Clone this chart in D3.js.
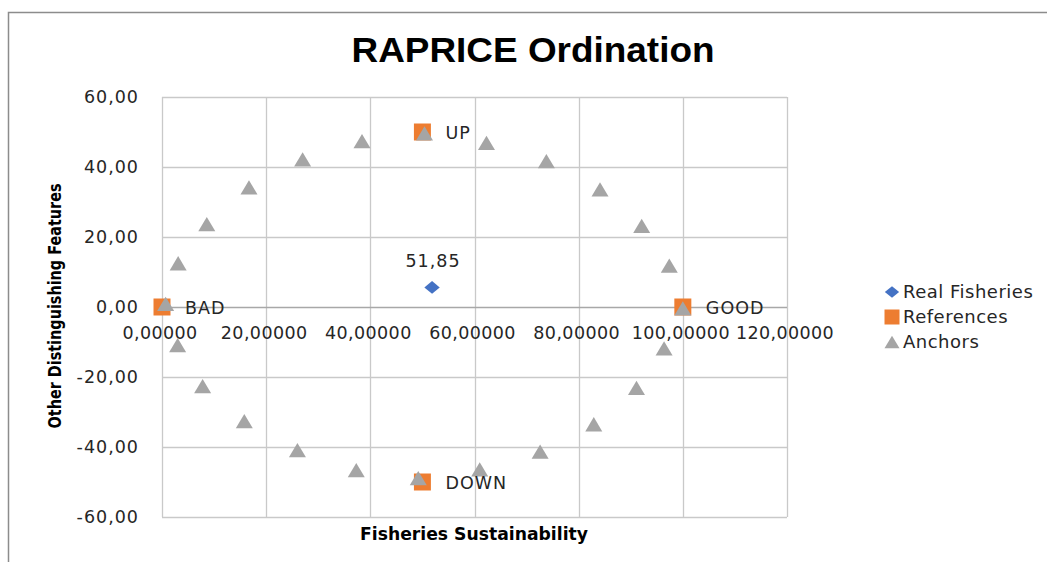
<!DOCTYPE html>
<html>
<head>
<meta charset="utf-8">
<script src="https://cdn.jsdelivr.net/npm/d3@7"></script>
<style>
  body { margin: 0; background: #fff; }
  text { font-family: "DejaVu Sans", sans-serif; fill: #262626; }
</style>
</head>
<body>
<div id="chart"></div>
<script>
// Data
const xTicks = [0, 20, 40, 60, 80, 100, 120];
const yTicks = [-60, -40, -20, 0, 20, 40, 60];

const realNames = ['51,85'];
const realX = [51.85];
const realY = [5.6];

const refNames = ['BAD', 'UP', 'GOOD', 'DOWN'];
const refX = [0, 50, 100, 50];
const refY = [0, 50, 0, -50];

const anchorX = [0.7, 3.1, 8.6, 16.7, 27.0, 38.4, 50.4, 62.3, 73.8, 84.1, 92.1, 97.4,
                 100, 96.4, 91.1, 82.9, 72.6, 61.0, 49.2, 37.3, 26.0, 15.8, 7.8, 3.0];
const anchorY = [0.9, 12.5, 23.7, 34.2, 42.2, 47.4, 49.6, 46.9, 41.7, 33.6, 23.2, 11.8,
                 -0.4, -11.8, -23.1, -33.5, -41.3, -46.4, -48.9, -46.6, -40.9, -32.6, -22.6, -10.9];

const seriesNames = ['Real Fisheries', 'References', 'Anchors'];
const colors = ['#4472C4', '#ED7D31', '#A5A5A5'];

// Sizes
const WIDTH = 1047;
const HEIGHT = 562;

const xScale = d3.scaleLinear().domain([0, 120]).range([162, 787]);
const yScale = d3.scaleLinear().domain([-60, 60]).range([517, 97]);

const svg = d3.select('#chart')
              .append('svg')
              .attr('width', WIDTH)
              .attr('height', HEIGHT);

// chart frame (only left and top edges visible)
svg.append('path')
   .attr('d', 'M8.5,' + HEIGHT + ' V12.5 H' + WIDTH)
   .attr('fill', 'none')
   .attr('stroke', '#8c8c8c')
   .attr('stroke-width', 1.5);

// title
svg.append('text')
   .attr('x', 533)
   .attr('y', 62)
   .attr('text-anchor', 'middle')
   .attr('textLength', 363)
   .attr('lengthAdjust', 'spacingAndGlyphs')
   .style('font-family', '"Liberation Sans", sans-serif')
   .style('font-weight', 'bold')
   .style('font-size', '35px')
   .style('fill', '#000')
   .text('RAPRICE Ordination');

// gridlines
const grid = svg.append('g');
grid.selectAll('.vgrid')
    .data(xTicks)
    .enter()
    .append('line')
    .attr('x1', d => Math.round(xScale(d)) + 0.5)
    .attr('x2', d => Math.round(xScale(d)) + 0.5)
    .attr('y1', yScale(60))
    .attr('y2', yScale(-60))
    .attr('stroke', '#c9c9c9')
    .attr('stroke-width', 1.3);
grid.selectAll('.hgrid')
    .data(yTicks)
    .enter()
    .append('line')
    .attr('x1', xScale(0))
    .attr('x2', xScale(120))
    .attr('y1', d => Math.round(yScale(d)) + 0.5)
    .attr('y2', d => Math.round(yScale(d)) + 0.5)
    .attr('stroke', d => d === 0 ? '#a8a8a8' : '#c9c9c9')
    .attr('stroke-width', 1.3);

// y axis labels
const fmtY = d => d3.format('.2f')(d).replace('.', ',').replace('−', '-');
svg.append('g')
   .selectAll('text')
   .data(yTicks)
   .enter()
   .append('text')
   .attr('x', 139)
   .attr('y', d => yScale(d))
   .attr('dy', '0.36em')
   .attr('text-anchor', 'end')
   .style('font-size', '17.5px')
   .style('letter-spacing', '1px')
   .text(fmtY);

// x axis labels, sitting under the zero line
const fmtX = d => d3.format('.5f')(d).replace('.', ',');
svg.append('g')
   .selectAll('text')
   .data(xTicks)
   .enter()
   .append('text')
   .attr('x', d => xScale(d) - 2)
   .attr('y', yScale(0) + 26)
   .attr('dy', '0.36em')
   .attr('text-anchor', 'middle')
   .style('font-size', '17.5px')
   .style('letter-spacing', '0.4px')
   .text(fmtX);

// axis titles
svg.append('text')
   .attr('x', 474)
   .attr('y', 540)
   .attr('text-anchor', 'middle')
   .attr('textLength', 228)
   .attr('lengthAdjust', 'spacingAndGlyphs')
   .style('font-weight', 'bold')
   .style('font-size', '17px')
   .style('fill', '#000')
   .text('Fisheries Sustainability');

svg.append('text')
   .attr('transform', 'translate(61,306) rotate(-90)')
   .attr('text-anchor', 'middle')
   .attr('textLength', 245)
   .attr('lengthAdjust', 'spacingAndGlyphs')
   .style('font-weight', 'bold')
   .style('font-size', '17px')
   .style('fill', '#000')
   .text('Other Distinguishing Features');

// marker shapes
const diamond = s => 'M0,' + (-s * 0.45) + ' L' + (s * 0.55) + ',0 L0,' + (s * 0.45) + ' L' + (-s * 0.55) + ',0Z';
const square = s => 'M' + (-s / 2) + ',' + (-s / 2) + ' h' + s + ' v' + s + ' h' + (-s) + 'Z';
const triangle = s => 'M0,' + (-s * 0.42) + ' L' + (s / 2) + ',' + (s * 0.42) + ' L' + (-s / 2) + ',' + (s * 0.42) + 'Z';

// Real Fisheries
const real = realX.map((x, i) => ({ x: x, y: realY[i], name: realNames[i] }));
svg.append('g')
   .selectAll('path')
   .data(real)
   .enter()
   .append('path')
   .attr('d', diamond(14))
   .attr('transform', d => 'translate(' + xScale(d.x) + ',' + yScale(d.y) + ')')
   .attr('fill', colors[0]);

// References
const refs = refX.map((x, i) => ({ x: x, y: refY[i], name: refNames[i] }));
svg.append('g')
   .selectAll('path')
   .data(refs)
   .enter()
   .append('path')
   .attr('d', square(17))
   .attr('transform', d => 'translate(' + xScale(d.x) + ',' + yScale(d.y) + ')')
   .attr('fill', colors[1]);

// Anchors
const anchors = anchorX.map((x, i) => ({ x: x, y: anchorY[i] }));
svg.append('g')
   .selectAll('path')
   .data(anchors)
   .enter()
   .append('path')
   .attr('d', triangle(17))
   .attr('transform', d => 'translate(' + xScale(d.x) + ',' + yScale(d.y) + ')')
   .attr('fill', colors[2]);

// data labels
svg.append('g')
   .selectAll('text')
   .data(refs)
   .enter()
   .append('text')
   .attr('x', d => xScale(d.x) + 23)
   .attr('y', d => yScale(d.y) + 1)
   .attr('dy', '0.36em')
   .style('font-size', '17.5px')
   .style('letter-spacing', '1px')
   .text(d => d.name);

svg.append('g')
   .selectAll('text')
   .data(real)
   .enter()
   .append('text')
   .attr('x', d => xScale(d.x) + 1)
   .attr('y', d => yScale(d.y) - 27)
   .attr('dy', '0.36em')
   .attr('text-anchor', 'middle')
   .style('font-size', '17.5px')
   .style('letter-spacing', '1px')
   .text(d => d.name);

// legend
const shapes = [diamond(13), square(15), triangle(15)];
const legend = svg.append('g')
                  .selectAll('g')
                  .data(seriesNames)
                  .enter()
                  .append('g')
                  .attr('transform', (d, i) => 'translate(892,' + (292 + i * 25) + ')');
legend.append('path')
      .attr('d', (d, i) => shapes[i])
      .attr('fill', (d, i) => colors[i]);
legend.append('text')
      .attr('x', 11)
      .attr('dy', '0.36em')
      .style('font-size', '18px')
      .style('letter-spacing', '0.5px')
      .text(d => d);
</script>
</body>
</html>
